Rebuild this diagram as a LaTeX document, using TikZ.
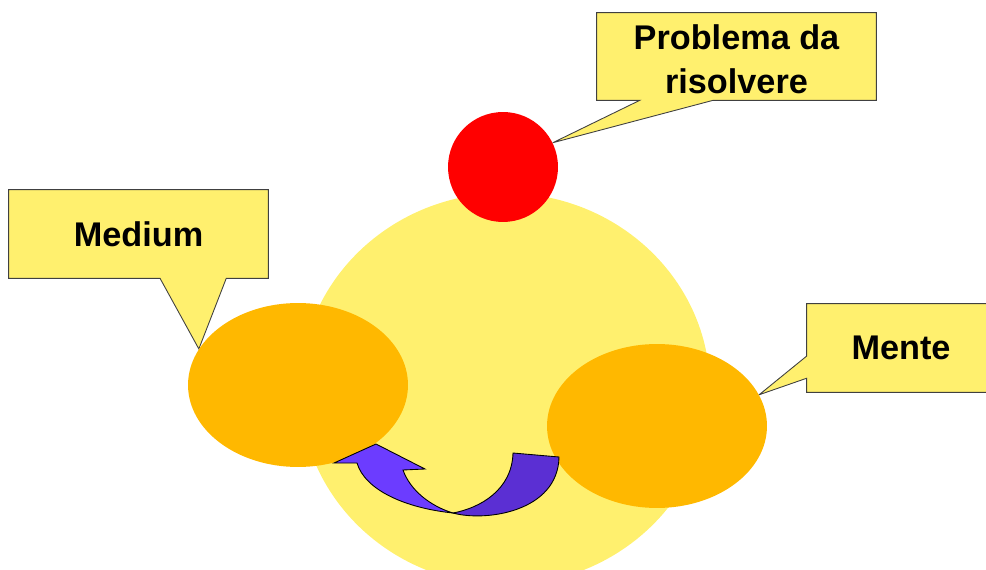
\documentclass[tikz,border=0pt]{standalone}
\usepackage{fontspec}
\setmainfont{Liberation Sans}
\usepackage{xcolor}
\usetikzlibrary{shapes.geometric,calc,backgrounds}

\definecolor{pale}{HTML}{FFF06E}
\definecolor{amber}{HTML}{FFB800}
\definecolor{violetL}{HTML}{6C3CFF}
\definecolor{violetD}{HTML}{5B2FD3}

\begin{document}
\begin{tikzpicture}[x=0.02cm,y=-0.02cm,font=\fontsize{19.5}{25}\selectfont\bfseries,
    callout/.style={fill=pale,draw=black!75,line width=0.5pt},
    blob/.style={ellipse,fill=amber,minimum width=4.4cm,minimum height=3.28cm,inner sep=0pt},
    label box/.style={minimum height=1.76cm,align=center,inner sep=0pt},
    ribbon/.style={draw=black,line width=0.5pt}]
\useasboundingbox (0,0) rectangle (986,570);
% shapes
\node[ellipse,fill=pale,minimum width=8.2cm,minimum height=7.84cm,inner sep=0pt] (head) at (505,389) {};
\node[circle,fill=red,minimum size=2.2cm,inner sep=0pt] (prob) at (503,167) {};
\node[blob] (medium) at (298,385) {};
\node[blob] (mente) at (657,426) {};
% curved arrow
\draw[ribbon,fill=violetD] (453,513) .. controls (485,522) and (558,512) .. (559,457)
    -- (513,453) .. controls (512,490) and (480,508) .. cycle;
\draw[ribbon,fill=violetL] (453,513) .. controls (405,508) and (365,490) .. (357,463)
    -- (334,463) -- (376,444) -- (425,469) -- (403,470)
    .. controls (410,490) and (430,506) .. cycle;
% labels
\node[label box,minimum width=5.58cm,minimum height=1.74cm] (probbox) at (736.5,56.5) {\rule{0pt}{0.9em}Problema da\\risolvere};
\node[label box,minimum width=5.18cm] (mediumbox) at (138.5,234) {Medium};
\node[label box,minimum width=3.76cm] (mentebox) at (901,348) {Mente};
\begin{scope}[on background layer]
\draw[callout] (probbox.north west) -- (probbox.north east) -- (probbox.south east)
    -- ($(probbox.south west)!0.416!(probbox.south east)$) -- (prob.26)
    -- ($(probbox.south west)!0.154!(probbox.south east)$) -- (probbox.south west) -- cycle;
\draw[callout] (mediumbox.north west) -- (mediumbox.north east) -- (mediumbox.south east)
    -- ($(mediumbox.south west)!0.838!(mediumbox.south east)$) -- (medium.160)
    -- ($(mediumbox.south west)!0.583!(mediumbox.south east)$) -- (mediumbox.south west) -- cycle;
\draw[callout] (mentebox.north west) -- (mentebox.north east) -- (mentebox.south east)
    -- (mentebox.south west) -- ($(mentebox.north west)!0.841!(mentebox.south west)$)
    -- (mente.17) -- ($(mentebox.north west)!0.591!(mentebox.south west)$) -- cycle;
\end{scope}
\end{tikzpicture}
\end{document}
